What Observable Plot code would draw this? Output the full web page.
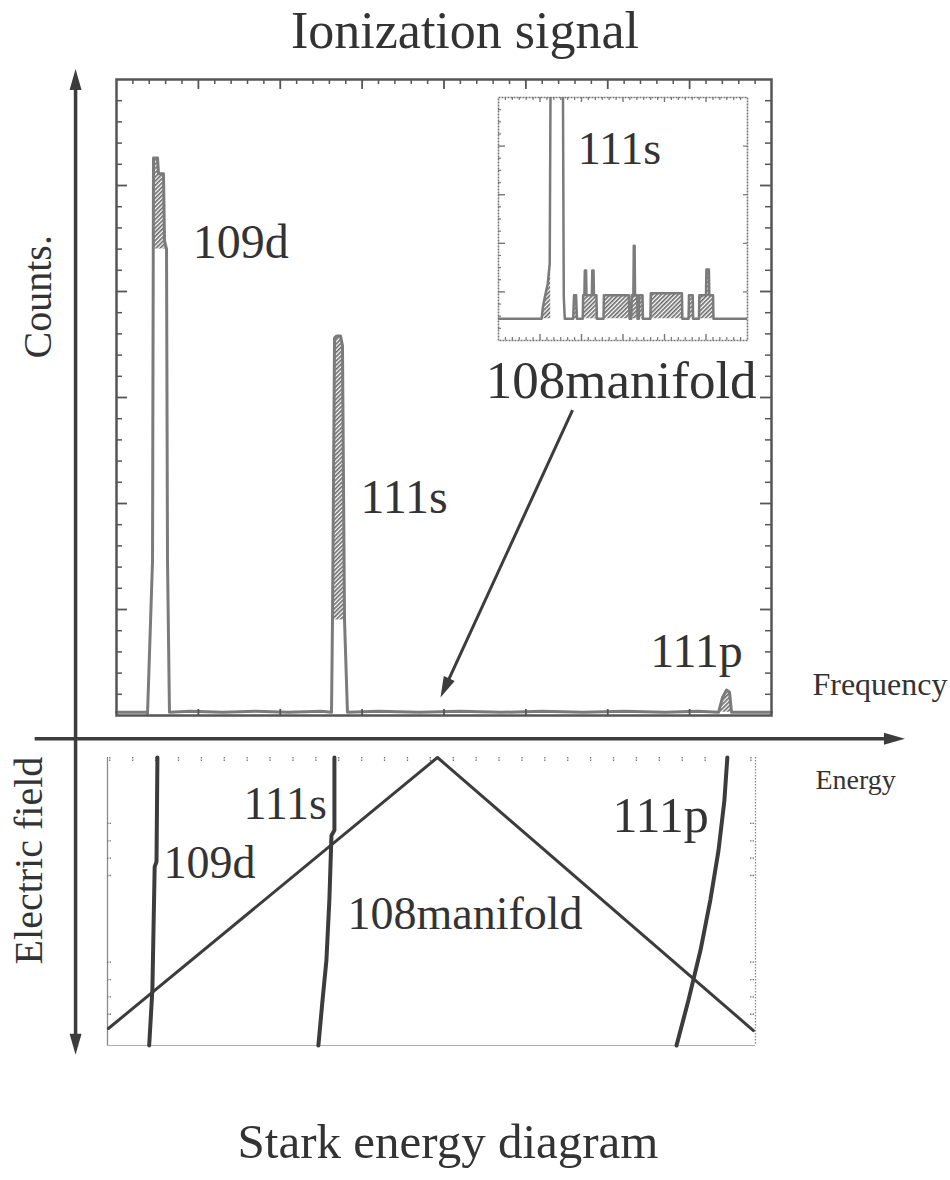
<!DOCTYPE html>
<html>
<head>
<meta charset="utf-8">
<script src="https://cdn.jsdelivr.net/npm/d3@7"></script>
<script src="https://cdn.jsdelivr.net/npm/@observablehq/plot@0.6"></script>
<style>
  body { margin: 0; background: #fff; }
  #fig { position: relative; width: 950px; height: 1180px; overflow: hidden;
         font-family: "Liberation Serif", "Times New Roman", serif; color: #333; }
  #fig svg.layer { position: absolute; left: 0; top: 0; background: transparent; overflow: visible; }
  .heading { position: absolute; left: 0; text-align: center; line-height: 1; white-space: nowrap; }
</style>
</head>
<body>
<svg width="0" height="0" style="position:absolute">
  <defs>
    <pattern id="hatch" patternUnits="userSpaceOnUse" width="3" height="3" patternTransform="rotate(45)">
      <rect width="3" height="3" fill="#ffffff"></rect>
      <line x1="0.8" y1="0" x2="0.8" y2="3" stroke="#6a6a6a" stroke-width="1.7"></line>
    </pattern>
  </defs>
</svg>
<div id="fig">
  <div class="heading" id="title" style="top:5px;width:930px;font-size:52px;">Ionization signal</div>
  <div class="heading" id="caption" style="top:1117px;width:896px;font-size:49px;">Stark energy diagram</div>
</div>
<script>
const FONT = '"Liberation Serif", "Times New Roman", serif';
const INK = "#333333";
const LINE = "#3c3c3c";
const TRACE = "#7b7b7b";

// ---------- ionization spectrum (frequency in grid units, counts) ----------
const spectrumFreq = [0.00, 0.20, 0.37, 0.379, 0.44, 0.449, 0.452, 0.501, 0.513, 0.574, 0.586, 0.611, 0.623, 0.647,
  0.90, 1.30, 1.70, 2.10, 2.50,
  2.626, 2.638, 2.663, 2.687, 2.736, 2.760, 2.785, 2.821,
  3.20, 3.70, 4.20, 4.70, 5.20, 5.70, 6.20, 6.70, 7.10,
  7.353, 7.402, 7.451, 7.487, 7.512, 7.80, 8.00];
const spectrumCounts = [3, 3, 3, 2, 146, 440, 526, 526, 511, 511, 448, 440, 146, 3,
  4, 3, 4, 3, 4,
  3, 90, 356, 358, 358, 349, 90, 3,
  4, 3, 4, 3, 4, 3, 4, 3, 4,
  3, 17, 24, 22, 3, 3, 3];

// dense (shaded) part of each line
const peakNames = ["109d", "111s", "111p"];
const coreLo = [0.449, 2.638, 7.353];
const coreHi = [0.611, 2.785, 7.512];
const coreFloor = [440, 90, 3];

// tick positions of the signal frame
const freqMajor = [1, 2, 3, 4, 5, 6, 7];
const freqMinor = d3.range(0, 40).map(i => i / 5).filter(v => v % 1 !== 0);
const countMajor = [100, 200, 300, 400, 500];
const countMinor = d3.range(1, 30).map(i => i * 20).filter(v => v % 100 !== 0);

// labels of the signal panel
const signalLabelText = ["109d", "111s", "108manifold", "111p"];
const signalLabelFreq = [0.93, 2.98, 4.51, 6.52];
const signalLabelCounts = [432, 191, 300, 46];
const signalLabelSize = [48, 48, 53, 48];

// diagram axes drawn in signal units, and the pointer to the manifold
const axisFreqAt = -0.5;
const axisCountsAt = -22;
const verticalAxisCounts = [-320, 610];
const horizontalAxisFreq = [-1.0, 9.63];
const pointerFreq = [5.57, 3.957];
const pointerCounts = [288, 17];

// ---------- inset: baseline region around 111s ----------
const insetU = [-1.0, 0.04, 0.065, 0.113, 0.186, 0.234, 0.258, 0.549, 0.573, 0.597,
  0.80, 0.82, 0.87, 0.89,
  1.03, 1.04, 1.07, 1.08, 1.11, 1.12, 1.25, 1.26, 1.29, 1.30, 1.36, 1.37,
  1.53, 1.54, 2.14, 2.16,
  2.20, 2.21, 2.25, 2.26, 2.28, 2.29, 2.34, 2.35,
  2.38, 2.39, 2.47, 2.48,
  2.66, 2.67, 3.42, 3.43,
  3.58, 3.59, 3.68, 3.69,
  3.83, 3.84, 4.00, 4.01, 4.07, 4.08, 4.17, 4.18, 5.0];
const insetC = [4.5, 4.5, 6.6, 8.8, 11.7, 15.8, 60, 60, 9, 4.5,
  4.5, 9.3, 9.3, 4.5,
  4.5, 9.3, 9.3, 14.4, 14.4, 9.3, 9.3, 14.4, 14.4, 9.3, 9.3, 4.5,
  4.5, 9.3, 9.3, 4.5,
  4.5, 9.3, 9.3, 19.5, 19.5, 9.3, 9.3, 4.5,
  4.5, 9.3, 9.3, 4.5,
  4.5, 9.7, 9.7, 4.5,
  4.5, 9.3, 9.3, 4.5,
  4.5, 9.3, 9.3, 14.6, 14.6, 9.3, 9.3, 4.5, 4.5];
const insetBaseline = 4.5;
const insetFillFrom = [0.04, 0.79];
const insetFillTo = [0.258, 4.2];

// ---------- Stark diagram (energy vs electric field) ----------
const levelNames = ["109d", "111s", "111p"];
const levelEnergy = [
  [2.08, 2.04, 1.96, 1.86, 1.72],
  [9.81, 9.81, 9.68, 9.59, 9.46, 9.29, 9.11],
  [26.97, 26.84, 26.58, 26.23, 25.80, 25.27, 24.75]
];
const levelField = [
  [15.8, 9.8, 9.5, 2.4, -0.8],
  [15.8, 11.6, 11.3, 7.6, 4.1, 1.8, -0.8],
  [15.8, 13.3, 10.4, 7.6, 4.7, 1.8, -0.8]
];
const manifoldEnergy = [-0.06, 14.31, 28.11];
const manifoldField = [0.18, 15.8, 0.06];
const energyTicks = d3.range(0, 29);
const fieldTicks = [1, 2, 3, 4, 9, 10, 11, 12];

const starkLabelText = ["111s", "109d", "108manifold", "111p"];
const starkLabelEnergy = [5.84, 2.35, 10.38, 21.95];
const starkLabelField = [12.28, 8.83, 5.94, 11.48];
const starkLabelSize = [46, 46, 46, 50];

// ---------- page layout ----------
const W = 950, H = 1180;
const signalBox = {left: 116, right: 771, top: 79, bottom: 715};
const insetBox = {left: 498, right: 747, top: 97, bottom: 340};
const starkBox = {left: 107, right: 755, top: 757, bottom: 1045};
const margins = b => ({marginLeft: b.left, marginRight: W - b.right, marginTop: b.top, marginBottom: H - b.bottom});
const boxW = b => b.right - b.left;
const boxH = b => b.bottom - b.top;

// narrow filled arrow head, tip at the origin pointing up
const arrowHead = {
  draw(context) {
    context.moveTo(0, 0);
    context.lineTo(6, 21);
    context.lineTo(-6, 21);
    context.closePath();
  }
};

function addLayer(svg) {
  svg.classList.add("layer");
  document.getElementById("fig").appendChild(svg);
}

// ===== signal panel + diagram axes =====
{
  const spec = spectrumFreq.map((f, i) => ({f, c: spectrumCounts[i]}));
  const cores = peakNames.flatMap((peak, k) =>
    spec.filter(d => d.f >= coreLo[k] && d.f <= coreHi[k]).map(d => ({...d, peak, floor: coreFloor[k]})));
  const fw = boxW(signalBox), fh = boxH(signalBox);
  const kF = fw / 8, kC = fh / 600;            // pixels per unit
  const gap = 10;                               // shaft stops inside the head

  const pointerAngle = Math.atan2((pointerFreq[1] - pointerFreq[0]) * kF,
                                  (pointerCounts[1] - pointerCounts[0]) * kC) * 180 / Math.PI;
  const pLen = Math.hypot((pointerFreq[1] - pointerFreq[0]) * kF, (pointerCounts[1] - pointerCounts[0]) * kC);
  const pShrink = 1 - gap / pLen;

  const shafts = [
    {x1: axisFreqAt, y1: verticalAxisCounts[0] + gap / kC, x2: axisFreqAt, y2: verticalAxisCounts[1] - gap / kC, w: 3.5},
    {x1: horizontalAxisFreq[0], y1: axisCountsAt, x2: horizontalAxisFreq[1] - gap / kF, y2: axisCountsAt, w: 3.5},
    {x1: pointerFreq[0], y1: pointerCounts[0],
     x2: pointerFreq[0] + (pointerFreq[1] - pointerFreq[0]) * pShrink,
     y2: pointerCounts[0] + (pointerCounts[1] - pointerCounts[0]) * pShrink, w: 3}
  ];
  const tips = [
    {x: axisFreqAt, y: verticalAxisCounts[1], angle: 0},
    {x: axisFreqAt, y: verticalAxisCounts[0], angle: 180},
    {x: horizontalAxisFreq[1], y: axisCountsAt, angle: 90},
    {x: pointerFreq[1], y: pointerCounts[1], angle: pointerAngle}
  ];
  const labels = signalLabelText.map((t, i) =>
    ({t, f: signalLabelFreq[i], c: signalLabelCounts[i], s: signalLabelSize[i]}));

  const svg = Plot.plot({
    width: W, height: H, ...margins(signalBox),
    x: {domain: [0, 8], axis: null},
    y: {domain: [0, 600], axis: null},
    marks: [
      Plot.areaY(cores, {x: "f", y1: "floor", y2: "c", z: "peak", fill: "url(#hatch)"}),
      Plot.line(spec, {x: "f", y: "c", stroke: TRACE, strokeWidth: 3}),
      // inward ticks on the four sides
      Plot.ruleX(freqMinor, {insetBottom: fh - 5, stroke: "#555", strokeWidth: 1.5}),
      Plot.ruleX(freqMajor, {insetBottom: fh - 10, stroke: "#555", strokeWidth: 1.8}),
      Plot.ruleX(freqMajor, {insetTop: fh - 6, stroke: "#555", strokeWidth: 1.8}),
      Plot.ruleY(countMinor, {insetRight: fw - 6, stroke: "#555", strokeWidth: 1.5}),
      Plot.ruleY(countMajor, {insetRight: fw - 11, stroke: "#555", strokeWidth: 1.8}),
      Plot.ruleY(countMinor, {insetLeft: fw - 6, stroke: "#555", strokeWidth: 1.5}),
      Plot.ruleY(countMajor, {insetLeft: fw - 11, stroke: "#555", strokeWidth: 1.8}),
      Plot.frame({stroke: "#555", strokeWidth: 2.5}),
      // diagram axes and pointer
      Plot.link(shafts, {x1: "x1", y1: "y1", x2: "x2", y2: "y2", stroke: LINE, strokeWidth: "w"}),
      Plot.dot(tips, {x: "x", y: "y", rotate: "angle", symbol: arrowHead, fill: LINE, stroke: "none"}),
      // labels
      Plot.text(labels, {x: "f", y: "c", text: "t", fontSize: "s", textAnchor: "start", lineAnchor: "bottom",
        fontFamily: FONT, fill: INK}),
      Plot.text(["Frequency"], {x: 8.5, y: 19.8, textAnchor: "start", lineAnchor: "bottom",
        fontFamily: FONT, fontSize: 32, fill: INK}),
      Plot.text(["Counts."], {x: -0.806, y: 395, rotate: -90, textAnchor: "middle", lineAnchor: "bottom",
        fontFamily: FONT, fontSize: 40, fill: INK})
    ]
  });
  addLayer(svg);
}

// ===== Stark energy diagram =====
{
  const sw = boxW(starkBox), sh = boxH(starkBox);
  const levels = levelNames.flatMap((state, k) =>
    levelEnergy[k].map((e, i) => ({state, e, f: levelField[k][i]})));
  const manifold = manifoldEnergy.map((e, i) => ({e, f: manifoldField[i]}));
  const labels = starkLabelText.map((t, i) =>
    ({t, e: starkLabelEnergy[i], f: starkLabelField[i], s: starkLabelSize[i]}));

  const svg = Plot.plot({
    width: W, height: H, ...margins(starkBox),
    x: {domain: [-0.1, 28.2], axis: null},
    y: {domain: [-0.8, 15.8], axis: null},
    marks: [
      Plot.ruleX([-0.1], {stroke: "#8a8a8a", strokeWidth: 1.3}),
      Plot.ruleY([-0.8], {stroke: "#b0b0b0", strokeWidth: 1}),
      Plot.ruleX([28.2], {stroke: "#8a8a8a", strokeWidth: 1.3, strokeDasharray: "1.5,1.5"}),
      Plot.ruleX(energyTicks, {insetBottom: sh - 5, stroke: "#777", strokeWidth: 1.3, strokeDasharray: "1.5,1"}),
      Plot.ruleY(fieldTicks, {insetRight: sw - 5, stroke: "#777", strokeWidth: 1.3, strokeDasharray: "1.5,1"}),
      Plot.ruleY(fieldTicks, {insetLeft: sw - 5, stroke: "#777", strokeWidth: 1.3, strokeDasharray: "1.5,1"}),
      Plot.line(manifold, {x: "e", y: "f", stroke: LINE, strokeWidth: 3}),
      Plot.line(levels, {x: "e", y: "f", z: "state", stroke: LINE, strokeWidth: 4}),
      Plot.text(labels, {x: "e", y: "f", text: "t", fontSize: "s", textAnchor: "start", lineAnchor: "bottom",
        fontFamily: FONT, fill: INK}),
      Plot.text(["Energy"], {x: 30.82, y: 14.01, textAnchor: "start", lineAnchor: "bottom",
        fontFamily: FONT, fontSize: 28, fill: INK}),
      Plot.text(["Electric field"], {x: -2.94, y: 9.86, rotate: -90, textAnchor: "middle", lineAnchor: "bottom",
        fontFamily: FONT, fontSize: 40, fill: INK})
    ]
  });
  addLayer(svg);
}

// ===== inset around 111s =====
{
  const iw = boxW(insetBox), ih = boxH(insetBox);
  const spec = insetU.map((u, i) => ({u, c: insetC[i]}));
  const filled = insetFillFrom.flatMap((lo, k) =>
    spec.filter(d => d.u >= lo && d.u <= insetFillTo[k]).map(d => ({...d, seg: k})));
  const uMinor = d3.range(-6, 31).map(i => i / 6).filter(v => Math.abs(v - Math.round(v)) > 1e-6);
  const uMajor = [0, 1, 2, 3, 4];
  const cMinor = d3.range(1, 20).map(i => i * 2.5).filter(v => v % 10 !== 0);
  const cMajor = [10, 20, 30, 40];

  const svg = Plot.plot({
    width: W, height: H, ...margins(insetBox),
    x: {domain: [-1, 5], axis: null},
    y: {domain: [0, 50], axis: null},
    marks: [
      Plot.areaY(filled, {x: "u", y1: insetBaseline, y2: "c", z: "seg", fill: "url(#hatch)", clip: true}),
      Plot.line(spec, {x: "u", y: "c", stroke: TRACE, strokeWidth: 2.5, clip: true}),
      Plot.ruleX(uMinor, {insetTop: ih - 3, stroke: "#777", strokeWidth: 1.2}),
      Plot.ruleX(uMajor, {insetTop: ih - 6, stroke: "#777", strokeWidth: 1.4}),
      Plot.ruleX(uMinor, {insetBottom: ih - 3, stroke: "#777", strokeWidth: 1.2}),
      Plot.ruleX(uMajor, {insetBottom: ih - 5, stroke: "#777", strokeWidth: 1.4}),
      Plot.ruleY(cMinor, {insetRight: iw - 3, stroke: "#777", strokeWidth: 1.2}),
      Plot.ruleY(cMajor, {insetRight: iw - 7, stroke: "#777", strokeWidth: 1.4}),
      Plot.ruleY(cMajor, {insetLeft: iw - 4, stroke: "#777", strokeWidth: 1.2}),
      Plot.frame({stroke: "#777", strokeWidth: 1.6, strokeDasharray: "2,1"}),
      Plot.text(["111s"], {x: 0.91, y: 36.4, textAnchor: "start", lineAnchor: "bottom",
        fontFamily: FONT, fontSize: 46, fill: INK})
    ]
  });
  addLayer(svg);
}
</script>
</body>
</html>
